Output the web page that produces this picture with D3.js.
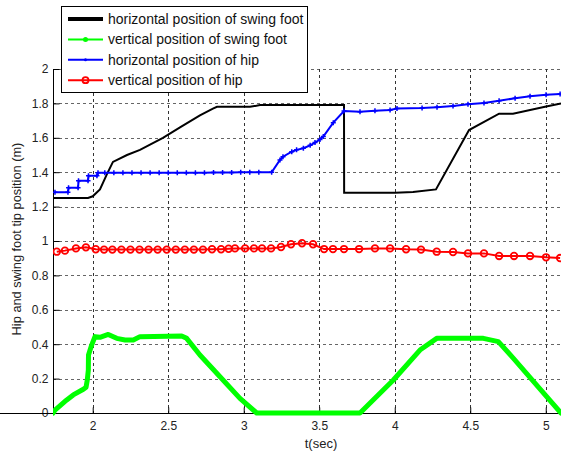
<!DOCTYPE html>
<html><head><meta charset="utf-8">
<script src="https://cdn.jsdelivr.net/npm/d3@7"></script>
<style>body{margin:0;background:#fff}svg{display:block}</style>
</head><body>
<svg id="c" width="561" height="453"></svg>
<script>
const xTicks = [2, 2.5, 3, 3.5, 4, 4.5, 5];
const yTicks = [0, 0.2, 0.4, 0.6, 0.8, 1, 1.2, 1.4, 1.6, 1.8, 2];
const seriesNames = ["horizontal position of swing foot","vertical position of swing foot","horizontal position of hip","vertical position of hip"];

const footX = [[1.737,1.25],[1.969,1.25],[2.000,1.26],[2.048,1.30],[2.095,1.39],[2.134,1.46],[2.227,1.50],[2.313,1.53],[2.465,1.60],[2.578,1.66],[2.710,1.73],[2.796,1.77],[2.823,1.78],[3.042,1.78],[3.108,1.79],[3.664,1.79],[3.665,1.28],[4.002,1.28],[4.121,1.285],[4.273,1.30],[4.492,1.645],[4.691,1.74],[4.783,1.74],[4.995,1.78],[5.101,1.80]];

const footY = [[1.737,0.0],[1.750,0.017],[1.828,0.076],[1.871,0.105],[1.938,0.138],[1.956,0.15],[1.964,0.192],[1.971,0.25],[1.972,0.337],[1.993,0.395],[2.015,0.444],[2.048,0.44],[2.103,0.457],[2.159,0.434],[2.214,0.424],[2.269,0.424],[2.313,0.444],[2.589,0.448],[2.622,0.434],[2.710,0.337],[2.843,0.211],[2.975,0.085],[3.086,0],[3.770,0],[3.991,0.192],[4.167,0.366],[4.278,0.434],[4.587,0.434],[4.686,0.415],[4.786,0.318],[5.006,0.095],[5.101,0]];

const hipX = [[1.750,1.283],[1.836,1.283],[1.840,1.31],[1.903,1.31],[1.906,1.35],[1.969,1.35],[1.972,1.38],[2.028,1.38],[2.035,1.397],[2.08,1.397],[2.14,1.397],[2.20,1.397],[2.26,1.397],[2.32,1.397],[2.38,1.397],[2.44,1.397],[2.50,1.397],[2.56,1.397],[2.62,1.397],[2.68,1.397],[2.74,1.397],[2.80,1.398],[2.86,1.398],[2.92,1.398],[2.98,1.399],[3.04,1.399],[3.10,1.399],[3.185,1.399],[3.240,1.471],[3.260,1.490],[3.318,1.519],[3.350,1.530],[3.395,1.539],[3.440,1.556],[3.472,1.572],[3.505,1.590],[3.527,1.607],[3.593,1.688],[3.664,1.756],[3.770,1.752],[3.869,1.757],[3.969,1.762],[4.015,1.770],[4.181,1.773],[4.280,1.778],[4.386,1.785],[4.485,1.795],[4.591,1.803],[4.691,1.815],[4.797,1.830],[4.896,1.842],[5.002,1.850],[5.095,1.855]];

const hipY = [[1.762,0.938],[1.816,0.944],[1.889,0.957],[1.955,0.963],[2.020,0.952],[2.075,0.950],[2.13,0.950],[2.19,0.950],[2.25,0.950],[2.31,0.950],[2.37,0.950],[2.43,0.950],[2.49,0.950],[2.55,0.950],[2.61,0.950],[2.67,0.950],[2.73,0.950],[2.79,0.952],[2.85,0.952],[2.90,0.955],[2.942,0.957],[3.009,0.957],[3.068,0.957],[3.121,0.957],[3.181,0.957],[3.247,0.965],[3.313,0.981],[3.386,0.987],[3.459,0.981],[3.532,0.953],[3.591,0.953],[3.664,0.953],[3.764,0.953],[3.869,0.957],[3.969,0.957],[4.075,0.952],[4.174,0.950],[4.278,0.938],[4.386,0.936],[4.485,0.928],[4.591,0.928],[4.691,0.913],[4.790,0.913],[4.896,0.913],[5.002,0.905],[5.095,0.901]];

const colors = ["#000000", "#00ff00", "#0000ff", "#ff0000"];

const svg = d3.select("#c");
const x = d3.scaleLinear().domain([1.737, 5.101]).range([53, 561]);
const y = d3.scaleLinear().domain([0, 2]).range([413, 69]);
const fmt = d => String(d);

const defs = svg.append("defs");
defs.append("clipPath").attr("id","clip").append("rect").attr("x",53).attr("y",60).attr("width",508).attr("height",360);

// grid
const grid = svg.append("g");
grid.selectAll(".gy").data(yTicks.slice(1)).join("line")
  .attr("x1", 53).attr("x2", 561)
  .attr("y1", d => Math.round(y(d)) + 0.5).attr("y2", d => Math.round(y(d)) + 0.5)
  .attr("stroke", "#666").attr("stroke-width", 1.2).attr("stroke-dasharray", "3,3");
grid.selectAll(".gx").data(xTicks).join("line")
  .attr("y1", 69).attr("y2", 413)
  .attr("x1", d => Math.round(x(d)) + 0.5).attr("x2", d => Math.round(x(d)) + 0.5)
  .attr("stroke", "#333").attr("stroke-width", 1).attr("stroke-dasharray", "3,3");

// axes
const yAxis = d3.axisLeft(y).tickValues(yTicks).tickFormat(fmt).tickSizeInner(-6).tickSizeOuter(0).tickPadding(5);
const xAxis = d3.axisBottom(x).tickValues(xTicks).tickFormat(fmt).tickSizeInner(-6).tickSizeOuter(0).tickPadding(8);
const gy = svg.append("g").attr("transform","translate(53.5,0)").call(yAxis);
const gx = svg.append("g").attr("transform","translate(0,413.5)").call(xAxis);
[gy, gx].forEach(g => {
  g.select(".domain").attr("stroke","#000");
  g.selectAll("text").attr("font-family","Liberation Sans, Arial, sans-serif").attr("font-size",12).attr("fill","#222");
  g.selectAll(".tick line").attr("stroke","#000");
});
gy.select(".domain").attr("d","M0,69V413");
gx.select(".domain").attr("d","M0,0H561");

// lines
const line = d3.line().x(d => x(d[0])).y(d => y(d[1]));
const plot = svg.append("g").attr("clip-path","url(#clip)");

plot.append("path").datum(footX).attr("d", line).attr("fill","none").attr("stroke",colors[0]).attr("stroke-width",2);
plot.append("path").datum(footY).attr("d", line).attr("fill","none").attr("stroke",colors[1]).attr("stroke-width",5).attr("stroke-linejoin","round").attr("stroke-linecap","round");
plot.append("path").datum(hipX).attr("d", line).attr("fill","none").attr("stroke",colors[2]).attr("stroke-width",2);
plot.selectAll(".pm").data(hipX).join("path")
  .attr("d", d => `M${x(d[0])-2.5},${y(d[1])}h5M${x(d[0])},${y(d[1])-2.5}v5`)
  .attr("stroke",colors[2]).attr("stroke-width",1.5);
plot.append("path").datum(hipY).attr("d", line).attr("fill","none").attr("stroke",colors[3]).attr("stroke-width",2);
plot.selectAll(".cm").data(hipY).join("circle")
  .attr("cx", d => x(d[0])).attr("cy", d => y(d[1])).attr("r",3.3)
  .attr("fill","none").attr("stroke",colors[3]).attr("stroke-width",1.8);

// axis labels
svg.append("text").attr("x",321).attr("y",448).attr("text-anchor","middle")
  .attr("font-family","Liberation Sans, Arial, sans-serif").attr("font-size",13).attr("fill","#222").text("t(sec)");
svg.append("text").attr("transform","translate(21,239) rotate(-90)").attr("text-anchor","middle")
  .attr("font-family","Liberation Sans, Arial, sans-serif").attr("font-size",12.8).attr("fill","#222").text("Hip and swing foot tip position (m)");

// legend
const lg = svg.append("g");
lg.append("rect").attr("x",61.5).attr("y",6.5).attr("width",246).attr("height",86).attr("fill","#fff").attr("stroke","#000").attr("stroke-width",1);
const rows = seriesNames.map((n,i) => ({n, i, yy: 19 + i*20.4}));
rows.forEach(r => {
  const g = lg.append("g");
  g.append("line").attr("x1",68).attr("x2",103).attr("y1",r.yy).attr("y2",r.yy)
    .attr("stroke",colors[r.i]).attr("stroke-width", r.i===0 ? 4 : 2);
  if (r.i===1) g.append("circle").attr("cx",85.5).attr("cy",r.yy).attr("r",2.5).attr("fill",colors[1]);
  if (r.i===2) g.append("circle").attr("cx",85.5).attr("cy",r.yy).attr("r",1.5).attr("fill",colors[2]);
  if (r.i===3) g.append("circle").attr("cx",85.5).attr("cy",r.yy).attr("r",3).attr("fill","none").attr("stroke",colors[3]).attr("stroke-width",1.8);
  g.append("text").attr("x",108).attr("y",r.yy).attr("dy","0.35em")
    .attr("font-family","Liberation Sans, Arial, sans-serif").attr("font-size",14).attr("fill","#111").text(r.n);
});
</script>
</body></html>
